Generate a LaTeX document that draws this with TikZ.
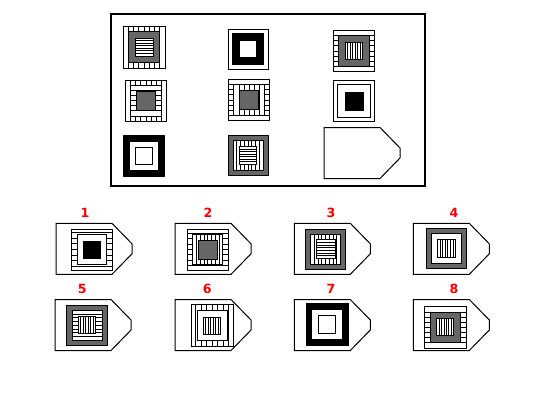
\documentclass[tikz,border=0pt]{standalone}
\usepackage{fontspec}
\newfontfamily\lblfont{DejaVu Sans}
\definecolor{figgrey}{RGB}{102,102,102}
% square of half side #2 round the local origin
\newcommand{\figsq}[2][fill=white]{\draw[#1] (-#2,-#2) rectangle (#2,#2);}
% #3 vertical / horizontal lines from -#2 to #2, each as long as the square of half side #1
\newcommand{\figvl}[3]{\foreach \k in {1,...,#3}{\draw ({-#2+(\k-1)*2*#2/(#3-1)},-#1) -- ({-#2+(\k-1)*2*#2/(#3-1)},#1);}}
\newcommand{\fighl}[3]{\foreach \k in {1,...,#3}{\draw (-#1,{-#2+(\k-1)*2*#2/(#3-1)}) -- (#1,{-#2+(\k-1)*2*#2/(#3-1)});}}
% striped core: white square of half side #1 with #2 inner lines
\newcommand{\figcoreV}[2]{\figsq{#1}\foreach \k in {1,...,#2}{\draw ({-#1+\k*2*#1/(#2+1)},-#1) -- ({-#1+\k*2*#1/(#2+1)},#1);}}
\newcommand{\figcoreH}[2]{\figsq{#1}\foreach \k in {1,...,#2}{\draw (-#1,{-#1+\k*2*#1/(#2+1)}) -- (#1,{-#1+\k*2*#1/(#2+1)});}}
% answer card, top left corner at (#1,#2)
\newcommand{\anstag}[2]{\draw[fill=white] (#1,#2) -- ++(56,0) -- ++(20,20.5) -- ++(0,10) -- ++(-20,20.5) -- ++(-56,0) -- cycle;}

\begin{document}
\begin{tikzpicture}[x=0.75pt,y=0.75pt,yscale=-1,xscale=1,line width=0.75pt,
  lbl/.style={text=red,font=\lblfont\bfseries\fontsize{9.5}{11}\selectfont,inner sep=0pt}]
\useasboundingbox (0,0) rectangle (550,400);

%Shape: Rectangle [id:matrix]
\draw [line width=1.5pt] (110.5,13.5) rectangle (424.5,186);

%Matrix row 1
\begin{scope}[shift={(144,47)}]
\figsq{21} \figvl{21}{15.5}{7} \figsq[fill=figgrey]{15.5} \figcoreH{9}{6}
\end{scope}
\begin{scope}[shift={(248,49)}]
\figsq{20} \figsq[fill=black]{15.7} \figsq{8.7}
\end{scope}
\begin{scope}[shift={(354,51)}]
\figsq{20.5} \fighl{20.5}{15.5}{7} \figsq[fill=figgrey]{15.5} \figcoreV{8.5}{6}
\end{scope}
%Matrix row 2
\begin{scope}[shift={(146,100.5)}]
\figsq{20.5} \figvl{20.5}{15.5}{7} \figsq{15.5} \fighl{15.5}{10}{5} \figsq[fill=figgrey]{9.5}
\end{scope}
\begin{scope}[shift={(249,100)}]
\figsq{20.5} \fighl{20.5}{15.5}{7} \figsq{15.5} \figvl{15.5}{10}{5} \figsq[fill=figgrey]{9.5}
\end{scope}
\begin{scope}[shift={(354,101)}]
\figsq{20.5} \figsq{16.5} \figsq[fill=black]{9}
\end{scope}
%Matrix row 3
\begin{scope}[shift={(144,156)}]
\figsq[fill=black]{20.5} \figsq{14.5} \figsq{8.5}
\end{scope}
\begin{scope}[shift={(248,155.5)}]
\figsq[fill=figgrey]{20} \figsq{15} \figvl{15}{11.25}{7} \figcoreH{8.7}{6}
\end{scope}
%Shape: missing cell
\anstag{324}{127.5}

%Answer cards
\anstag{56}{223.3} \anstag{175}{223.3} \anstag{294.3}{223.3} \anstag{413.3}{223.3}
\anstag{55}{299.5} \anstag{175}{299.5} \anstag{294.3}{299.5} \anstag{413.3}{299.5}

\begin{scope}[shift={(91.7,249.5)}]
\figsq{20.5} \fighl{20.5}{17}{7} \figsq{14.7} \figsq[fill=black]{8.5}
\end{scope}
\begin{scope}[shift={(207.8,249.5)}]
\figsq{20.5} \fighl{20.5}{16}{7} \figsq{15} \figvl{15}{11.25}{7} \figsq[fill=figgrey]{9.5}
\end{scope}
\begin{scope}[shift={(325.7,249.2)}]
\figsq[fill=figgrey]{20} \figsq{15} \figvl{15}{11.25}{7} \figcoreH{9.3}{6}
\end{scope}
\begin{scope}[shift={(446.7,248.7)}]
\figsq[fill=figgrey]{20} \figsq{15} \figcoreV{9}{6}
\end{scope}
\begin{scope}[shift={(87,325.3)}]
\figsq[fill=figgrey]{20.3} \figsq{15} \fighl{15}{11.25}{7} \figcoreV{8.5}{6}
\end{scope}
\begin{scope}[shift={(212,325.5)}]
\figsq{21} \figvl{21}{16.5}{7} \figsq{15} \figcoreV{8.5}{6}
\end{scope}
\begin{scope}[shift={(327,324.5)}]
\figsq[fill=black]{21} \figsq{15.3} \figsq{8.7}
\end{scope}
\begin{scope}[shift={(445.3,327)}]
\figsq{21} \fighl{21}{15}{7} \figsq[fill=figgrey]{15} \figcoreV{8.5}{6}
\end{scope}

% Text Node
\node [lbl] (lab1) at (85,213) {1};
% Text Node
\node [lbl] (lab2) at (208,213) {2};
% Text Node
\node [lbl] (lab3) at (331,213) {3};
% Text Node
\node [lbl] (lab4) at (454,213) {4};
% Text Node
\node [lbl] (lab5) at (82.3,289) {5};
% Text Node
\node [lbl] (lab6) at (207.3,289) {6};
% Text Node
\node [lbl] (lab7) at (331,289) {7};
% Text Node
\node [lbl] (lab8) at (454,289) {8};

\end{tikzpicture}
\end{document}
